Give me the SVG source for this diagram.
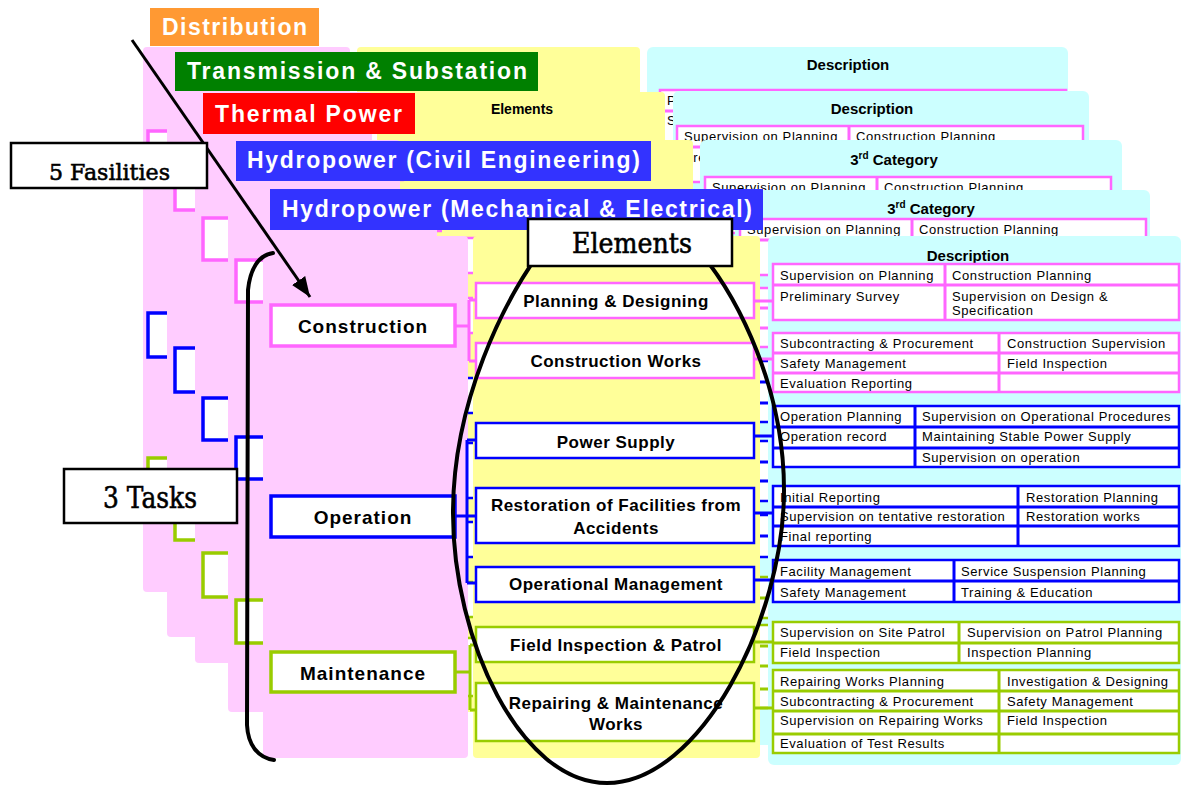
<svg xmlns="http://www.w3.org/2000/svg" width="1181" height="785" viewBox="0 0 1181 785">
<defs>
<style>
.pk{fill:#ffccff}
.yl{fill:#ffff99}
.cy{fill:#ccffff}
.task{fill:#fff;stroke-width:3.5}
.sp{stroke:#ff66ff}
.sb{stroke:#0000ff}
.sg{stroke:#99cc00}
.el{fill:#fff;stroke-width:2.5}
.tb{fill:#fff;stroke-width:2.5}
.ln{fill:none;stroke-width:3}
.tt{font:bold 19px 'Liberation Sans',Arial,sans-serif;letter-spacing:1px;text-anchor:middle;fill:#000}
.te{font:bold 17px 'Liberation Sans',Arial,sans-serif;letter-spacing:0.5px;text-anchor:middle;fill:#000}
.tc{font:13px 'Liberation Sans',Arial,sans-serif;letter-spacing:0.6px;fill:#000}
.th{font:bold 15px 'Liberation Sans',Arial,sans-serif;text-anchor:middle;fill:#000}
.tl{font:bold 23px 'Liberation Sans',Arial,sans-serif;fill:#fff}
.ts{font-family:'DejaVu Serif','Liberation Serif',serif;fill:#000;stroke:#000;stroke-width:0.6}
.note{fill:#fff;stroke:#000;stroke-width:2.5}
.ink{fill:none;stroke:#000;stroke-width:4;stroke-linecap:round;stroke-linejoin:round}
</style>
<marker id="arrowhead" viewBox="0 0 20 16" refX="20" refY="8" markerWidth="20" markerHeight="16" markerUnits="userSpaceOnUse" orient="auto">
<path d="M0,0 L20,8 L0,16 z" fill="#000"/>
</marker>
<!-- outline of element boxes and description tables, reused for the stacked facility sheets -->
<g id="sheetFrame">
<g class="sp">
<rect class="el" x="476" y="283" width="278" height="35"/>
<rect class="el" x="476" y="343" width="278" height="35"/>
<rect class="tb" x="773" y="264" width="406" height="56"/>
<rect class="tb" x="773" y="333" width="406" height="59"/>
<path class="ln" d="M754,301H773M754,359H773M773,285H1179M945,264V320M773,353H1179M773,373H1179M999,333V392"/>
</g>
<g class="sb">
<rect class="el" x="476" y="423" width="278" height="35"/>
<rect class="el" x="476" y="488" width="278" height="55"/>
<rect class="el" x="476" y="567" width="278" height="35"/>
<rect class="tb" x="773" y="406" width="406" height="61"/>
<rect class="tb" x="773" y="486" width="406" height="60"/>
<rect class="tb" x="773" y="560" width="406" height="42"/>
<path class="ln" d="M754,436H773M754,513H773M754,580H773M773,427H1179M773,448H1179M915,406V467M773,507H1179M773,526H1179M1018,486V546M773,581H1179M954,560V602"/>
</g>
<g class="sg">
<rect class="el" x="476" y="627" width="278" height="35"/>
<rect class="el" x="476" y="683" width="278" height="58"/>
<rect class="tb" x="773" y="622" width="406" height="41"/>
<rect class="tb" x="773" y="670" width="406" height="83"/>
<path class="ln" d="M754,642H773M754,708H773M773,643H1179M959,622V663M773,691H1179M773,711H1179M773,734H1179M999,670V753"/>
</g>
</g>
</defs>

<rect width="1181" height="785" fill="#fff"/>

<!-- sheet 1: distribution -->
<g id="sheet-distribution">
<rect class="pk" x="143" y="47" width="207" height="545" rx="4"/>
<rect class="yl" x="357" y="47" width="283" height="545" rx="4"/>
<rect class="cy" x="647" y="47" width="421" height="553" rx="6"/>
<rect class="task sp" x="148" y="131" width="184" height="42"/>
<rect class="task sb" x="148" y="313" width="184" height="44"/>
<rect class="task sg" x="148" y="458" width="184" height="42"/>
<use href="#sheetFrame" transform="translate(-113,-174)"/>
<text class="th" x="848" y="70">Description</text>
<text class="tc" x="667" y="105">Preliminary Survey</text>
<text class="tc" x="667" y="125">Supervision on Design &amp;</text>
</g>

<!-- sheet 2: transmission & substation -->
<g id="sheet-transmission">
<rect class="pk" x="167" y="92" width="205" height="545" rx="4"/>
<rect class="yl" x="377" y="92" width="288" height="545" rx="4"/>
<rect class="cy" x="673" y="91" width="416" height="554" rx="6"/>
<rect class="task sp" x="175" y="168" width="184" height="42"/>
<rect class="task sb" x="175" y="348" width="184" height="44"/>
<rect class="task sg" x="175" y="498" width="184" height="42"/>
<use href="#sheetFrame" transform="translate(-96,-138)"/>
<text class="th" x="522" y="114" style="font-size:14px">Elements</text>
<text class="th" x="872" y="114">Description</text>
<text class="tc" x="684" y="141">Supervision on Planning</text>
<text class="tc" x="856" y="141">Construction Planning</text>
<text class="tc" x="684" y="162">Preliminary Survey</text>
</g>

<!-- sheet 3: thermal power -->
<g id="sheet-thermal">
<rect class="pk" x="195" y="140" width="205" height="523" rx="4"/>
<rect class="yl" x="404" y="140" width="289" height="523" rx="4"/>
<rect class="cy" x="700" y="140" width="422" height="550" rx="6"/>
<rect class="task sp" x="203" y="218" width="184" height="42"/>
<rect class="task sb" x="203" y="398" width="184" height="42"/>
<rect class="task sg" x="203" y="553" width="184" height="44"/>
<use href="#sheetFrame" transform="translate(-68,-87)"/>
<text class="th" x="894" y="165">3<tspan font-size="10" dy="-6">rd</tspan><tspan dy="6"> Category</tspan></text>
<text class="tc" x="712" y="192">Supervision on Planning</text>
<text class="tc" x="884" y="192">Construction Planning</text>
</g>

<!-- sheet 4: hydropower (civil engineering) -->
<g id="sheet-hydro-civil">
<rect class="pk" x="228" y="190" width="209" height="522" rx="4"/>
<rect class="yl" x="442" y="190" width="285" height="522" rx="4"/>
<rect class="cy" x="735" y="190" width="415" height="555" rx="6"/>
<rect class="task sp" x="236" y="260" width="184" height="42"/>
<rect class="task sb" x="236" y="437" width="184" height="42"/>
<rect class="task sg" x="236" y="600" width="184" height="43"/>
<use href="#sheetFrame" transform="translate(-33,-45)"/>
<text class="th" x="931" y="214">3<tspan font-size="10" dy="-6">rd</tspan><tspan dy="6"> Category</tspan></text>
<text class="tc" x="747" y="234">Supervision on Planning</text>
<text class="tc" x="919" y="234">Construction Planning</text>
</g>

<!-- sheet 5: hydropower (mechanical & electrical), front -->
<g id="sheet-hydro-me">
<rect class="pk" x="263" y="236" width="205" height="522" rx="4"/>
<rect class="yl" x="473" y="236" width="287" height="522" rx="4"/>
<rect class="cy" x="768" y="236" width="413" height="529" rx="6"/>
<text class="th" x="968" y="261">Description</text>
</g>

<!-- connectors: tasks to elements, elements to descriptions -->
<g id="connectors" class="ln">
<path class="sp" d="M455,326H469M469,300V361M469,300H476M469,361H476M754,301H773M754,359H773"/>
<path class="sb" d="M455,516H467M467,440V583M467,440H476M467,516H476M467,583H476M754,436H773M754,513H773M754,580H773"/>
<path class="sg" d="M455,672H470M470,645V710M470,645H476M470,710H476M754,642H773M754,708H773"/>
</g>

<!-- tasks -->
<g id="task-construction">
<rect class="task sp" x="271" y="305" width="184" height="41"/>
<text class="tt" x="363" y="333">Construction</text>
</g>
<g id="task-operation">
<rect class="task sb" x="271" y="496" width="184" height="41"/>
<text class="tt" x="363" y="524">Operation</text>
</g>
<g id="task-maintenance">
<rect class="task sg" x="271" y="652" width="184" height="40"/>
<text class="tt" x="363" y="680">Maintenance</text>
</g>

<!-- elements -->
<g id="el-planning">
<rect class="el sp" x="476" y="283" width="278" height="35"/>
<text class="te" x="616" y="307">Planning &amp; Designing</text>
</g>
<g id="el-construction-works">
<rect class="el sp" x="476" y="343" width="278" height="35"/>
<text class="te" x="616" y="367">Construction Works</text>
</g>
<g id="el-power-supply">
<rect class="el sb" x="476" y="423" width="278" height="35"/>
<text class="te" x="616" y="448">Power Supply</text>
</g>
<g id="el-restoration">
<rect class="el sb" x="476" y="488" width="278" height="55"/>
<text class="te" x="616" y="511">Restoration of Facilities from</text>
<text class="te" x="616" y="534">Accidents</text>
</g>
<g id="el-operational-management">
<rect class="el sb" x="476" y="567" width="278" height="35"/>
<text class="te" x="616" y="590">Operational Management</text>
</g>
<g id="el-field-inspection">
<rect class="el sg" x="476" y="627" width="278" height="35"/>
<text class="te" x="616" y="651">Field Inspection &amp; Patrol</text>
</g>
<g id="el-repairing">
<rect class="el sg" x="476" y="683" width="278" height="58"/>
<text class="te" x="616" y="709">Repairing &amp; Maintenance</text>
<text class="te" x="616" y="730">Works</text>
</g>

<!-- description tables -->
<g id="desc-planning">
<rect class="tb sp" x="773" y="264" width="406" height="56"/>
<path class="ln sp" d="M773,285H1179M945,264V320"/>
<text class="tc" x="780" y="280">Supervision on Planning</text>
<text class="tc" x="952" y="280">Construction Planning</text>
<text class="tc" x="780" y="301">Preliminary Survey</text>
<text class="tc" x="952" y="301">Supervision on Design &amp;</text>
<text class="tc" x="952" y="315">Specification</text>
</g>
<g id="desc-construction-works">
<rect class="tb sp" x="773" y="333" width="406" height="59"/>
<path class="ln sp" d="M773,353H1179M773,373H1179M999,333V392"/>
<text class="tc" x="780" y="348">Subcontracting &amp; Procurement</text>
<text class="tc" x="1007" y="348">Construction Supervision</text>
<text class="tc" x="780" y="368">Safety Management</text>
<text class="tc" x="1007" y="368">Field Inspection</text>
<text class="tc" x="780" y="388">Evaluation Reporting</text>
</g>
<g id="desc-power-supply">
<rect class="tb sb" x="773" y="406" width="406" height="61"/>
<path class="ln sb" d="M773,427H1179M773,448H1179M915,406V467"/>
<text class="tc" x="780" y="421">Operation Planning</text>
<text class="tc" x="922" y="421">Supervision on Operational Procedures</text>
<text class="tc" x="780" y="441">Operation record</text>
<text class="tc" x="922" y="441">Maintaining Stable Power Supply</text>
<text class="tc" x="922" y="462">Supervision on operation</text>
</g>
<g id="desc-restoration">
<rect class="tb sb" x="773" y="486" width="406" height="60"/>
<path class="ln sb" d="M773,507H1179M773,526H1179M1018,486V546"/>
<text class="tc" x="780" y="502">Initial Reporting</text>
<text class="tc" x="1026" y="502">Restoration Planning</text>
<text class="tc" x="780" y="521">Supervision on tentative restoration</text>
<text class="tc" x="1026" y="521">Restoration works</text>
<text class="tc" x="780" y="541">Final reporting</text>
</g>
<g id="desc-operational-management">
<rect class="tb sb" x="773" y="560" width="406" height="42"/>
<path class="ln sb" d="M773,581H1179M954,560V602"/>
<text class="tc" x="780" y="576">Facility Management</text>
<text class="tc" x="961" y="576">Service Suspension Planning</text>
<text class="tc" x="780" y="597">Safety Management</text>
<text class="tc" x="961" y="597">Training &amp; Education</text>
</g>
<g id="desc-field-inspection">
<rect class="tb sg" x="773" y="622" width="406" height="41"/>
<path class="ln sg" d="M773,643H1179M959,622V663"/>
<text class="tc" x="780" y="637">Supervision on Site Patrol</text>
<text class="tc" x="967" y="637">Supervision on Patrol Planning</text>
<text class="tc" x="780" y="657">Field Inspection</text>
<text class="tc" x="967" y="657">Inspection Planning</text>
</g>
<g id="desc-repairing">
<rect class="tb sg" x="773" y="670" width="406" height="83"/>
<path class="ln sg" d="M773,691H1179M773,711H1179M773,734H1179M999,670V753"/>
<text class="tc" x="780" y="686">Repairing Works Planning</text>
<text class="tc" x="1007" y="686">Investigation &amp; Designing</text>
<text class="tc" x="780" y="706">Subcontracting &amp; Procurement</text>
<text class="tc" x="1007" y="706">Safety Management</text>
<text class="tc" x="780" y="725">Supervision on Repairing Works</text>
<text class="tc" x="1007" y="725">Field Inspection</text>
<text class="tc" x="780" y="748">Evaluation of Test Results</text>
</g>

<!-- facility tabs -->
<g id="tab-distribution">
<rect x="150" y="8" width="169" height="38" fill="#ff9933"/>
<text class="tl" x="162" y="35" textLength="145" lengthAdjust="spacing">Distribution</text>
</g>
<g id="tab-transmission">
<rect x="175" y="52" width="363" height="39" fill="#008000"/>
<text class="tl" x="187" y="79" textLength="340" lengthAdjust="spacing">Transmission &amp; Substation</text>
</g>
<g id="tab-thermal">
<rect x="203" y="93" width="212" height="41" fill="#ff0000"/>
<text class="tl" x="215" y="122" textLength="187" lengthAdjust="spacing">Thermal Power</text>
</g>
<g id="tab-hydro-civil">
<rect x="236" y="141" width="415" height="40" fill="#3333ff"/>
<text class="tl" x="247" y="168" textLength="393" lengthAdjust="spacing">Hydropower (Civil Engineering)</text>
</g>
<g id="tab-hydro-me">
<rect x="270" y="189" width="493" height="41" fill="#3333ff"/>
<text class="tl" x="282" y="217" textLength="470" lengthAdjust="spacing">Hydropower (Mechanical &amp; Electrical)</text>
</g>

<!-- hand-drawn grouping marks -->
<g id="marks">
<path class="ink" d="M540,252 C505,300 453,400 453,513 C453,640 520,783 607,783 C700,783 784,620 784,490 C784,390 740,300 700,252"/>
<path class="ink" d="M273,253 C258,255 250,270 248,290 L247,725 C248,745 258,758 274,760"/>
<path d="M132,40 L310,297" fill="none" stroke="#000" stroke-width="3" marker-end="url(#arrowhead)"/>
</g>

<!-- callouts -->
<g id="note-elements">
<rect class="note" x="528" y="219" width="204" height="47"/>
<text class="ts" x="572" y="253" font-size="28" textLength="120" lengthAdjust="spacingAndGlyphs">Elements</text>
</g>
<g id="note-facilities">
<rect class="note" x="11" y="143" width="196" height="45"/>
<text class="ts" x="49" y="180" font-size="23" textLength="121" lengthAdjust="spacingAndGlyphs">5 Fasilities</text>
</g>
<g id="note-tasks">
<rect class="note" x="64" y="469" width="173" height="54"/>
<text class="ts" x="103" y="508" font-size="29" textLength="94" lengthAdjust="spacingAndGlyphs">3 Tasks</text>
</g>
</svg>
